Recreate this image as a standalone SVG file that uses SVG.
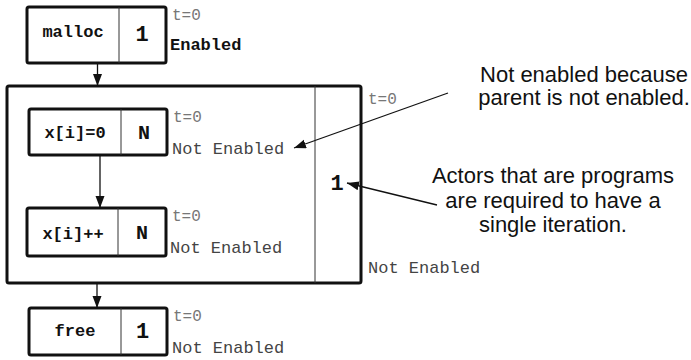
<svg xmlns="http://www.w3.org/2000/svg" width="691" height="360" viewBox="0 0 691 360">
  <style>
    .box { fill: #ffffff; stroke: #111111; stroke-width: 3; }
    .div { stroke: #333333; stroke-width: 1; fill: none; }
    .name { font-family: "Liberation Mono", "Courier New", monospace; font-weight: bold; font-size: 17px; fill: #111111; text-anchor: middle; }
    .count { font-family: "Liberation Mono", "Courier New", monospace; font-weight: bold; font-size: 22px; fill: #111111; text-anchor: middle; }
    .time { font-family: "Liberation Mono", "Courier New", monospace; font-size: 16px; fill: #777777; }
    .state { font-family: "Liberation Mono", "Courier New", monospace; font-size: 17px; fill: #444444; }
    .state-on { font-family: "Liberation Mono", "Courier New", monospace; font-size: 17px; font-weight: bold; fill: #111111; }
    .note { font-family: "Liberation Sans", Arial, sans-serif; font-size: 22px; fill: #111111; text-anchor: middle; }
    .edge { stroke: #111111; stroke-width: 1.3; fill: none; marker-end: url(#arrow); }
  </style>
  <defs>
    <marker id="arrow" markerUnits="userSpaceOnUse" markerWidth="13" markerHeight="10" refX="12" refY="4.5" orient="auto">
      <path d="M0,0 L12,4.5 L0,9 z" fill="#111111"/>
    </marker>
  </defs>

  <rect width="691" height="360" fill="#ffffff"/>

  <!-- program actor (hierarchical container) -->
  <g id="program">
    <rect class="box" x="7" y="86" width="354" height="197" rx="2"/>
    <line class="div" x1="315" y1="86" x2="315" y2="283"/>
    <text class="count" x="337" y="190">1</text>
    <text class="time" x="368" y="104">t=0</text>
    <text class="state" x="368" y="273">Not Enabled</text>
  </g>

  <!-- malloc actor -->
  <g id="malloc">
    <rect class="box" x="27" y="7" width="139" height="56" rx="2"/>
    <line class="div" x1="119" y1="7" x2="119" y2="63"/>
    <text class="name" x="73" y="37">malloc</text>
    <text class="count" x="142" y="41">1</text>
    <text class="time" x="172" y="20">t=0</text>
    <text class="state-on" x="170" y="50">Enabled</text>
  </g>

  <!-- x[i]=0 actor -->
  <g id="init">
    <rect class="box" x="29" y="109" width="138" height="46" rx="2"/>
    <line class="div" x1="121" y1="109" x2="121" y2="155"/>
    <text class="name" x="75" y="138">x[i]=0</text>
    <text class="count" x="144" y="139" style="font-size:20px">N</text>
    <text class="time" x="173" y="122">t=0</text>
    <text class="state" x="172" y="154">Not Enabled</text>
  </g>

  <!-- x[i]++ actor -->
  <g id="incr">
    <rect class="box" x="27" y="208" width="139" height="48" rx="2"/>
    <line class="div" x1="118" y1="208" x2="118" y2="256"/>
    <text class="name" x="73" y="239">x[i]++</text>
    <text class="count" x="142" y="239" style="font-size:20px">N</text>
    <text class="time" x="172" y="221">t=0</text>
    <text class="state" x="170" y="253">Not Enabled</text>
  </g>

  <!-- free actor -->
  <g id="free">
    <rect class="box" x="29" y="308" width="138" height="47" rx="2"/>
    <line class="div" x1="121" y1="308" x2="121" y2="355"/>
    <text class="name" x="75" y="336">free</text>
    <text class="count" x="142.5" y="338">1</text>
    <text class="time" x="173" y="321">t=0</text>
    <text class="state" x="172" y="353">Not Enabled</text>
  </g>

  <!-- annotations -->
  <g id="note-parent">
    <text class="note" x="584" y="82">Not enabled because</text>
    <text class="note" x="584" y="105">parent is not enabled.</text>
  </g>
  <g id="note-iteration">
    <text class="note" x="553" y="183">Actors that are programs</text>
    <text class="note" x="553" y="207.5">are required to have a</text>
    <text class="note" x="553" y="232">single iteration.</text>
  </g>

  <!-- connectors (drawn last so they sit on top of the container) -->
  <g id="connectors">
    <line class="edge" x1="97.5" y1="63" x2="97.5" y2="86"/>
    <line class="edge" x1="100" y1="155" x2="100" y2="208"/>
    <line class="edge" x1="97" y1="283" x2="97" y2="308"/>
    <line class="edge" x1="448" y1="93" x2="294" y2="148"/>
    <line class="edge" x1="437" y1="205" x2="347" y2="183"/>
  </g>
</svg>
